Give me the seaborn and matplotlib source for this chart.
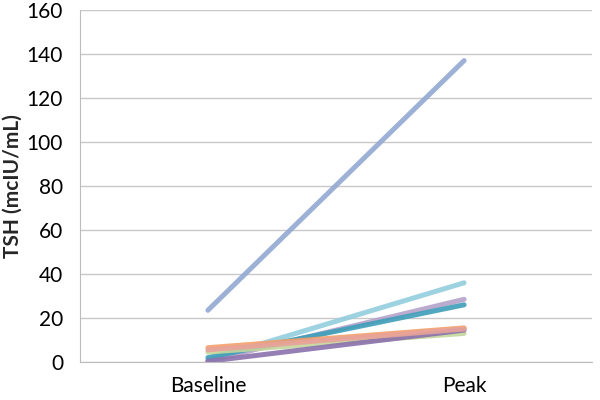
import pandas as pd
import matplotlib.pyplot as plt
import seaborn as sns

# --- Data ---
timepoints = ["Baseline", "Peak"]
patients   = ["P1", "P2", "P3", "P4", "P5", "P6", "P7", "P8"]
baseline   = [23.5, 1.0, 0.5, 2.0, 6.5, 4.5, 0.3, 5.5]
peak       = [137.0, 36.0, 28.5, 26.0, 15.5, 13.0, 14.5, 15.0]
colors     = ["#93A9D3", "#93CDDD", "#B3A2CA", "#3E9EB8",
              "#F2A06A", "#C3D69B", "#8A71AC", "#E7A39A"]

df = pd.DataFrame({
    "patient":   patients * 2,
    "timepoint": [timepoints[0]] * len(patients) + [timepoints[1]] * len(patients),
    "TSH":       baseline + peak,
})

sns.set_style("white")
plt.rcParams["font.family"] = ["Lato", "DejaVu Sans"]

fig, ax = plt.subplots(figsize=(6, 4), dpi=100)
fig.subplots_adjust(left=0.133, right=0.987, top=0.975, bottom=0.095)

sns.lineplot(data=df, x="timepoint", y="TSH", hue="patient",
             palette=colors, linewidth=3.6, alpha=0.9,
             legend=False, ax=ax, sort=False)

ax.set_xlim(-0.5, 1.5)
ax.set_ylim(0, 160)
ax.set_yticks(range(0, 161, 20))
ax.yaxis.grid(True, color="#c8c8c8", linewidth=1)
ax.set_axisbelow(True)
for side in ["top", "right"]:
    ax.spines[side].set_visible(False)
for side in ["left", "bottom"]:
    ax.spines[side].set_color("#bdbdbd")
ax.tick_params(axis="both", labelsize=15, length=0, colors="black")
ax.tick_params(axis="y", pad=12)
ax.tick_params(axis="x", pad=10)
ax.set_xlabel("")
ax.set_ylabel("TSH (mcIU/mL)", fontsize=15, fontweight="bold")
ax.yaxis.set_label_coords(-0.112, 0.5)

plt.savefig("out.png", dpi=100)
